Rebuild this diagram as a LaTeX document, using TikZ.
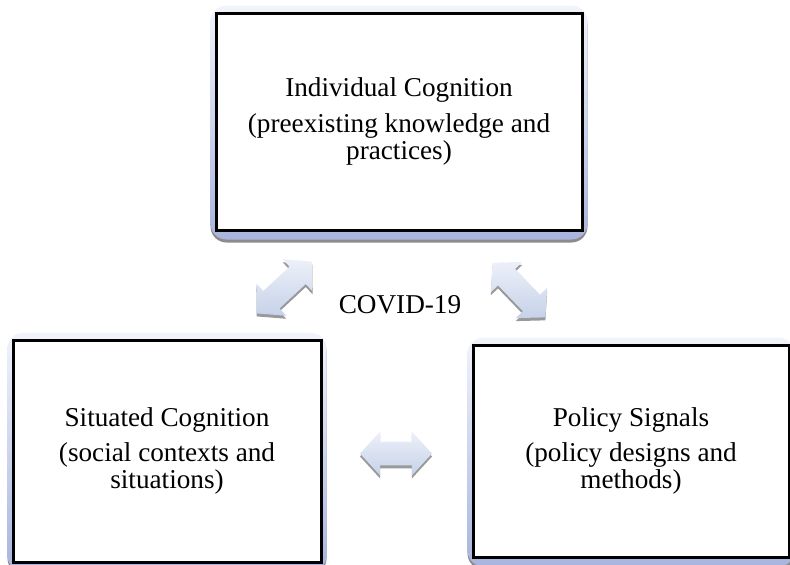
\documentclass[tikz,border=0pt]{standalone}
\usepackage{fontspec}
\setmainfont{Liberation Serif}
\usetikzlibrary{shapes.arrows,shadows,backgrounds}

\definecolor{shadelight}{RGB}{242,244,251}
\definecolor{shadedark}{RGB}{168,180,222}
\definecolor{arrowlight}{RGB}{236,240,249}
\definecolor{arrowdark}{RGB}{198,210,233}

\tikzset{
  cogbox/.style={draw=black, line width=1.5pt, fill=white, align=center,
    inner sep=0pt, font=\fontsize{13.6}{13.6}\selectfont},
  boxshade/.style={rounded corners=8pt, top color=shadelight, bottom color=shadedark,
    drop shadow={shadow xshift=0pt, shadow yshift=-1.5pt, fill=black!45, opacity=1}},
  blockarrow/.style={double arrow, double arrow head extend=5pt,
    double arrow tip angle=95, inner xsep=0pt, inner ysep=5.75pt,
    top color=arrowlight, bottom color=arrowdark,
    drop shadow={shadow xshift=0pt, shadow yshift=-1.5pt, fill=black!40, opacity=1}},
}

\begin{document}
\begin{tikzpicture}[x=0.5pt, y=-0.5pt]
  \useasboundingbox (0,0) rectangle (790,564);

  % the three boxes
  \node [cogbox, minimum width=183pt, minimum height=108.5pt] (indiv) at (399,121.5)
    {Individual Cognition\\[4pt](preexisting knowledge and\\practices)};
  \node [cogbox, minimum width=154pt, minimum height=111pt] (situated) at (167,451)
    {Situated Cognition\\[4pt](social contexts and\\situations)};
  \node [cogbox, minimum width=158pt, minimum height=106pt] (policy) at (631,451)
    {Policy Signals\\[4pt](policy designs and\\methods)};

  \begin{scope}[on background layer]
    \foreach \b in {indiv, situated, policy}
      \path [boxshade] ([xshift=-2pt, yshift=3pt]\b.north west)
        rectangle ([xshift=2pt, yshift=-4pt]\b.south east);
  \end{scope}

  \node [font=\fontsize{13.6}{13.6}\selectfont] (covid) at (400,305) {COVID-19};

  % block arrows
  \node [blockarrow, minimum height=38pt, rotate=43] (arrowleft) at (284.5,287.5) {};
  \node [blockarrow, minimum height=38pt, rotate=-46] (arrowright) at (519,290) {};
  \node [blockarrow, minimum height=36pt] (arrowmid) at (396,453.5) {};
\end{tikzpicture}
\end{document}
